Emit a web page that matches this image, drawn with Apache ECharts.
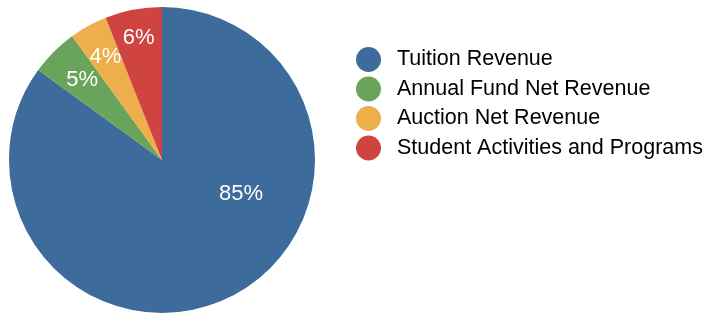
<!DOCTYPE html>
<html>
<head>
<meta charset="utf-8">
<script src="https://cdn.jsdelivr.net/npm/echarts@6/dist/echarts.min.js"></script>
<style>
html, body { margin: 0; padding: 0; background: #fff; }
#chart { width: 708px; height: 314px; }
</style>
</head>
<body>
<div id="chart"></div>
<script>
// data
var categories = ['Tuition Revenue', 'Annual Fund Net Revenue', 'Auction Net Revenue', 'Student Activities and Programs'];
var shares = [85, 5, 4, 6];
var sliceColors = ['#3d6b9b', '#6aa35a', '#eeae4b', '#cf4441'];

var FONT = '"Liberation Sans", Arial, sans-serif';
var CX = 162, CY = 160;
// how far the small labels sit out along the radius (0.5 = ECharts "inside")
var labelReach = [0.5, 0.71, 0.74, 0.78];

var chart = echarts.init(document.getElementById('chart'));

var pieData = [];
for (var i = 0; i < categories.length; i++) {
	pieData.push({ name: categories[i], value: shares[i], itemStyle: { color: sliceColors[i] } });
}

var option = {
	animation: false,
	backgroundColor: '#fff',
	legend: {
		orient: 'vertical',
		left: 351,
		top: 42,
		icon: 'circle',
		itemWidth: 25,
		itemHeight: 25,
		itemGap: 4.5,
		selectedMode: false,
		textStyle: {
			fontFamily: FONT,
			fontSize: 21.5,
			color: '#000',
			padding: [0, 0, 0, 11]
		},
		data: categories
	},
	series: [{
		type: 'pie',
		center: [CX, CY],
		radius: 153,
		startAngle: 90,
		clockwise: true,
		silent: true,
		itemStyle: { borderWidth: 0 },
		label: {
			show: true,
			position: 'inside',
			formatter: '{c}%',
			color: '#fff',
			fontFamily: FONT,
			fontSize: 22
		},
		labelLine: { show: false },
		//小扇区的标签往外推，大扇区的标签放到右侧
		labelLayout: function (p) {
			if (p.dataIndex === 0) {
				return { dx: 43, dy: -37 };
			}
			var k = (labelReach[p.dataIndex] - 0.5) / 0.5;
			var lx = p.labelRect.x + p.labelRect.width / 2;
			var ly = p.labelRect.y + p.labelRect.height / 2;
			return { dx: (lx - CX) * k, dy: (ly - CY) * k };
		},
		data: pieData
	}]
};

chart.setOption(option);
</script>
</body>
</html>
